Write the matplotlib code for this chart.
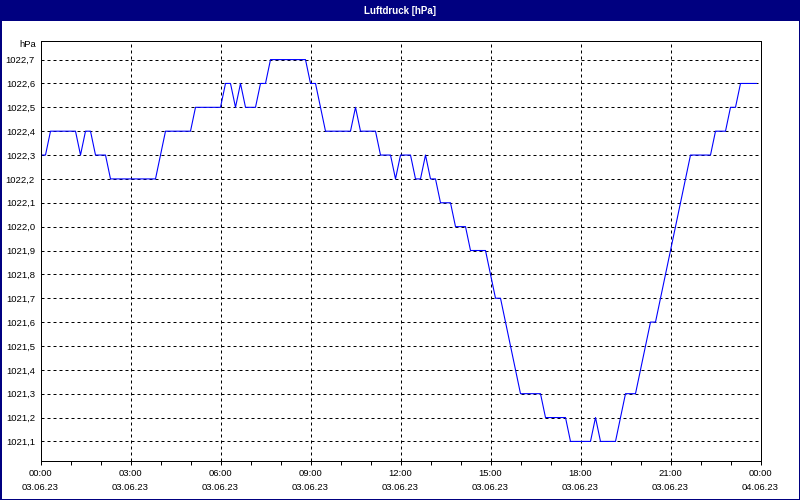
import datetime as dt
import matplotlib
matplotlib.use("Agg")
import matplotlib.pyplot as plt
import matplotlib.dates as mdates
from matplotlib.patches import Rectangle
from matplotlib.ticker import MultipleLocator, FuncFormatter

# Luftdruck 03.06.23 (breakpoints of the line)
times = ["00:00", "00:10", "00:20", "01:10", "01:20", "01:30", "01:40", "01:50",
         "02:10", "02:20", "03:50", "04:10", "05:00", "05:10", "06:00", "06:10",
         "06:20", "06:30", "06:40", "06:50", "07:10", "07:20", "07:30", "07:40",
         "08:50", "09:00", "09:10", "09:30", "10:20", "10:30", "10:40", "11:10",
         "11:20", "11:40", "11:50", "12:00", "12:20", "12:30", "12:40", "12:50",
         "13:00", "13:10", "13:20", "13:40", "13:50", "14:10", "14:20", "14:50",
         "15:10", "15:20", "16:00", "16:40", "16:50", "17:30", "17:40", "18:20",
         "18:30", "18:40", "19:10", "19:30", "19:50", "20:20", "20:30", "21:40",
         "22:20", "22:30", "22:50", "23:00", "23:10", "23:20", "23:52"]
pressure = [1022.3, 1022.3, 1022.4, 1022.4, 1022.3, 1022.4, 1022.4, 1022.3,
            1022.3, 1022.2, 1022.2, 1022.4, 1022.4, 1022.5, 1022.5, 1022.6,
            1022.6, 1022.5, 1022.6, 1022.5, 1022.5, 1022.6, 1022.6, 1022.7,
            1022.7, 1022.6, 1022.6, 1022.4, 1022.4, 1022.5, 1022.4, 1022.4,
            1022.3, 1022.3, 1022.2, 1022.3, 1022.3, 1022.2, 1022.2, 1022.3,
            1022.2, 1022.2, 1022.1, 1022.1, 1022.0, 1022.0, 1021.9, 1021.9,
            1021.7, 1021.7, 1021.3, 1021.3, 1021.2, 1021.2, 1021.1, 1021.1,
            1021.2, 1021.1, 1021.1, 1021.3, 1021.3, 1021.6, 1021.6, 1022.3,
            1022.3, 1022.4, 1022.4, 1022.5, 1022.5, 1022.6, 1022.6]

title = "Luftdruck [hPa]"
unit = "hPa"
day = dt.datetime(2023, 6, 3)

x = [day + dt.timedelta(hours=int(t[:2]), minutes=int(t[3:])) for t in times]

NAVY = "#000080"
FONT = "Liberation Sans"
PX = 0.72  # one pixel in points at 100 dpi

fig = plt.figure(figsize=(8, 5), dpi=100, facecolor="white")

# title bar and frame
fig.patches.append(Rectangle((0, 1 - 21 / 500), 1, 21 / 500, transform=fig.transFigure,
                             facecolor=NAVY, edgecolor="none", zorder=0))
fig.patches.append(Rectangle((0.5 / 800, 0.5 / 500), 799 / 800, 499 / 500,
                             transform=fig.transFigure, facecolor="none",
                             edgecolor=NAVY, linewidth=2 * PX, zorder=1))
fig.text(0.5, 1 - 10.5 / 500, title, color="white", fontweight="bold",
         fontsize=7, family=FONT, ha="center", va="center")

ax = fig.add_axes([40.5 / 800, 39.5 / 500, 720 / 800, 420 / 500])
ax.set_facecolor("white")
ax.set_axisbelow(True)

ax.plot(x, pressure, color="#0000FF", linewidth=PX * 1.1, zorder=3)

ax.set_xlim(day, day + dt.timedelta(days=1))
ax.set_ylim(1021.02, 1022.78)

ax.xaxis.set_major_locator(mdates.HourLocator(interval=3))
ax.xaxis.set_minor_locator(mdates.HourLocator(interval=1))
ax.xaxis.set_major_formatter(mdates.DateFormatter("%H:%M\n%d.%m.%y"))
ax.yaxis.set_major_locator(MultipleLocator(0.1))
ax.yaxis.set_major_formatter(FuncFormatter(lambda v, p: f"{v:.1f}".replace(".", ",")))

ax.grid(True, axis="both", which="major", color="black", linewidth=PX,
        linestyle=(0, (3, 3)))
ax.tick_params(axis="x", which="both", direction="out", length=3, width=PX,
               pad=3, labelsize=6.8, colors="black")
ax.tick_params(axis="y", which="both", length=0, pad=4, labelsize=6.8)
for lbl in ax.get_xticklabels() + ax.get_yticklabels():
    lbl.set_family(FONT)

for s in ax.spines.values():
    s.set_linewidth(PX)
    s.set_color("black")
    s.set_zorder(4)

ax.text(-4 / 720, 1 - 4 / 420, unit, transform=ax.transAxes, ha="right", va="center",
        fontsize=6.8, family=FONT)

fig.canvas.draw()
for lbl in ax.get_xticklabels():
    lbl.set_linespacing(1.7)
    lbl.set_family(FONT)

fig.savefig("out.png", dpi=100, facecolor="white")
